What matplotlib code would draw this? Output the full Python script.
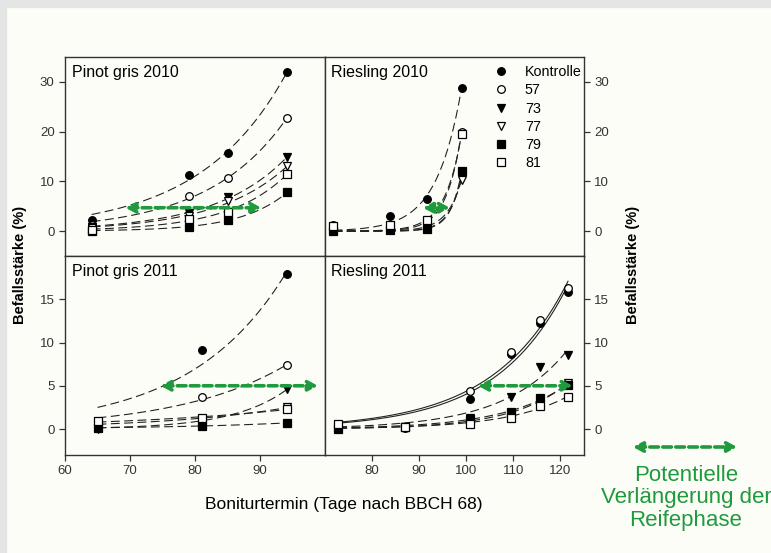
import numpy as np
import matplotlib
matplotlib.use("Agg")
import matplotlib.pyplot as plt
from matplotlib.patches import Rectangle
from matplotlib.lines import Line2D

plt.rcParams['font.family'] = ['Liberation Sans Narrow', 'Liberation Sans', 'DejaVu Sans']

# series names and markers (legend order)
series = ['Kontrolle', '57', '73', '77', '79', '81']
markers = {'Kontrolle': ('o', 'black'), '57': ('o', 'white'), '73': ('v', 'black'),
           '77': ('v', 'white'), '79': ('s', 'black'), '81': ('s', 'white')}

# Pinot gris 2010
pg10_days = [64.1, 79.1, 85.0, 94.2]
pg10 = {'Kontrolle': [2.2, 11.3, 15.8, 32.0],
        '57': [1.2, 7.0, 10.7, 22.8],
        '73': [0.8, 3.6, 6.8, 14.9],
        '77': [0.6, 3.0, 6.0, 13.0],
        '79': [0.0, 0.9, 2.2, 7.8],
        '81': [0.3, 2.5, 3.8, 11.5]}

# Riesling 2010
ri10_days = [71.8, 83.8, 91.7, 99.0]
ri10 = {'Kontrolle': [1.3, 3.0, 6.5, 28.8],
        '57': [1.0, 1.2, 1.8, 20.0],
        '73': [0.2, 0.3, 0.6, 11.0],
        '77': [0.3, 0.5, 0.9, 10.3],
        '79': [0.0, 0.2, 0.5, 12.0],
        '81': [1.0, 1.3, 2.2, 19.5]}

# Pinot gris 2011
pg11_days = [65.0, 81.0, 94.2]
pg11 = {'Kontrolle': [0.2, 9.15, 17.9],
        '57': [0.9, 3.7, 7.4],
        '73': [0.0, 1.0, 4.6],
        '77': [0.6, 1.2, 2.5],
        '79': [0.1, 0.4, 0.7],
        '81': [0.9, 1.3, 2.3]}

# Riesling 2011
ri11_days = [72.8, 87.0, 100.7, 109.6, 115.6, 121.6]
ri11 = {'Kontrolle': [0.1, 0.2, 3.5, 8.7, 12.3, 15.8],
        '57': [0.5, 0.1, 4.4, 8.9, 12.6, 16.3],
        '73': [0.0, 0.2, 1.3, 3.7, 7.2, 8.6],
        '77': [0.3, 0.2, 1.0, 1.8, 3.3, 5.3],
        '79': [0.0, 0.2, 1.2, 2.0, 3.6, 5.1],
        '81': [0.6, 0.2, 0.6, 1.3, 2.7, 3.7]}

# green arrows: (x start, x end, y)
arrows = {'pg10': (69.3, 90.2, 4.7), 'ri10': (90.8, 96.5, 4.7),
          'pg11': (74.7, 98.9, 5.0), 'ri11': (102.5, 122.6, 5.0)}

green = '#1f9a3d'
bg = '#fdfdf8'


def fit_exp(x, y):
    # y = a * exp(b * (x - x0)), grid search on b, least squares for a
    x = np.asarray(x, float)
    y = np.asarray(y, float)
    best = None
    for b in np.linspace(0.005, 0.8, 1600):
        e = np.exp(b * (x - x[0]))
        a = (y @ e) / (e @ e)
        err = ((y - a * e) ** 2).sum()
        if best is None or err < best[0]:
            best = (err, a, b)
    return best[1], best[2]


fig = plt.figure(figsize=(7.71, 5.53), dpi=100, facecolor=bg)
W, H = 771, 553
x0, xm, x1 = 65 / W, 325 / W, 584 / W
y1, ym, y0 = 1 - 57 / H, 1 - 256 / H, 1 - 455 / H

ax_tl = fig.add_axes([x0, ym, xm - x0, y1 - ym])
ax_tr = fig.add_axes([xm, ym, x1 - xm, y1 - ym])
ax_bl = fig.add_axes([x0, y0, xm - x0, ym - y0])
ax_br = fig.add_axes([xm, y0, x1 - xm, ym - y0])

panels = [(ax_tl, 'Pinot gris 2010', pg10_days, pg10, 'pg10'),
          (ax_tr, 'Riesling 2010', ri10_days, ri10, 'ri10'),
          (ax_bl, 'Pinot gris 2011', pg11_days, pg11, 'pg11'),
          (ax_br, 'Riesling 2011', ri11_days, ri11, 'ri11')]

arrow_style = dict(arrowstyle='<|-|>,head_length=0.55,head_width=0.3',
                   color=green, lw=2.6, linestyle=(0, (2.4, 1.2)),
                   shrinkA=0, shrinkB=0)

for ax, title, days, data, key in panels:
    ax.set_facecolor(bg)
    for name in series:
        a, b = fit_exp(days, data[name])
        xs = np.linspace(days[0], days[-1], 200)
        if key == 'ri11' and name in ('Kontrolle', '57'):
            ax.plot(xs, a * np.exp(b * (xs - days[0])), color='#222222', lw=0.8)
        else:
            ax.plot(xs, a * np.exp(b * (xs - days[0])), color='#222222', lw=0.8,
                    dashes=(8, 4))
        m, fc = markers[name]
        ax.plot(days, data[name], linestyle='none', marker=m, markersize=5.5,
                markerfacecolor=fc, markeredgecolor='black', markeredgewidth=0.9,
                zorder=5)
    xa, xb, ya = arrows[key]
    ax.annotate('', xy=(xb, ya), xytext=(xa, ya), arrowprops=arrow_style, zorder=6)
    ax.text(0.025, 0.96, title, transform=ax.transAxes, ha='left', va='top',
            fontsize=11.5, fontweight='medium', family=['Liberation Sans', 'DejaVu Sans'])
    for s in ax.spines.values():
        s.set_color('#333333')
        s.set_linewidth(1.0)
    ax.tick_params(direction='out', length=4, width=0.9, colors='#333333',
                   labelsize=9.5, labelcolor='#333333')

for ax in (ax_tl, ax_bl):
    ax.set_xlim(60, 100)
for ax in (ax_tr, ax_br):
    ax.set_xlim(70, 125)
    ax.yaxis.tick_right()
for ax in (ax_tl, ax_tr):
    ax.set_ylim(-5, 35)
    ax.set_yticks([0, 10, 20, 30])
    ax.set_xticks([])
for ax in (ax_bl, ax_br):
    ax.set_ylim(-3, 20)
    ax.set_yticks([0, 5, 10, 15])
ax_bl.set_xticks([60, 70, 80, 90])
ax_br.set_xticks([80, 90, 100, 110, 120])
for ax in (ax_tl, ax_bl):
    ax.tick_params(axis='y', left=True, right=False)
for ax in (ax_tr, ax_br):
    ax.tick_params(axis='y', left=False, right=True, labelright=True, labelleft=False)

# legend inside Riesling 2010
handles = [Line2D([], [], linestyle='none', marker=markers[n][0], markersize=5.5,
                  markerfacecolor=markers[n][1], markeredgecolor='black',
                  markeredgewidth=0.9) for n in series]
ax_tr.legend(handles, series, loc='upper left', bbox_to_anchor=(492 / W, 1 - 65 / H),
             bbox_transform=fig.transFigure, frameon=False, fontsize=10.3,
             handlelength=1.2, handletextpad=1.1, labelspacing=0.3,
             borderpad=0, borderaxespad=0)

fig.text(344 / W, 1 - 505 / H, 'Boniturtermin (Tage nach BBCH 68)', ha='center',
         va='center', fontsize=12.5)
fig.text(20 / W, 1 - 265 / H, 'Befallsstärke (%)', rotation=90, ha='center',
         va='center', fontsize=10.5, fontweight='bold',
         family=['Liberation Sans', 'DejaVu Sans'])
fig.text(633 / W, 1 - 265 / H, 'Befallsstärke (%)', rotation=90, ha='center',
         va='center', fontsize=10.5, fontweight='bold',
         family=['Liberation Sans', 'DejaVu Sans'])

# legend for the green arrow
ax_br.annotate('', xy=(737 / W, 1 - 447 / H), xytext=(633 / W, 1 - 447 / H),
               xycoords='figure fraction', textcoords='figure fraction',
               annotation_clip=False, arrowprops=arrow_style)
fig.text(686 / W, 1 - 498 / H, 'Potentielle\nVerlängerung der\nReifephase',
         ha='center', va='center', color=green, fontsize=16, linespacing=1.12)

# grey frame strips at top and left
fig.patches.append(Rectangle((0, 1 - 7 / H), 1, 7 / H, transform=fig.transFigure,
                             color='#e4e6e6', zorder=0))
fig.patches.append(Rectangle((0, 0), 6 / W, 1, transform=fig.transFigure,
                             color='#e4e6e6', zorder=0))

fig.savefig('out.png', dpi=100, facecolor=bg)
